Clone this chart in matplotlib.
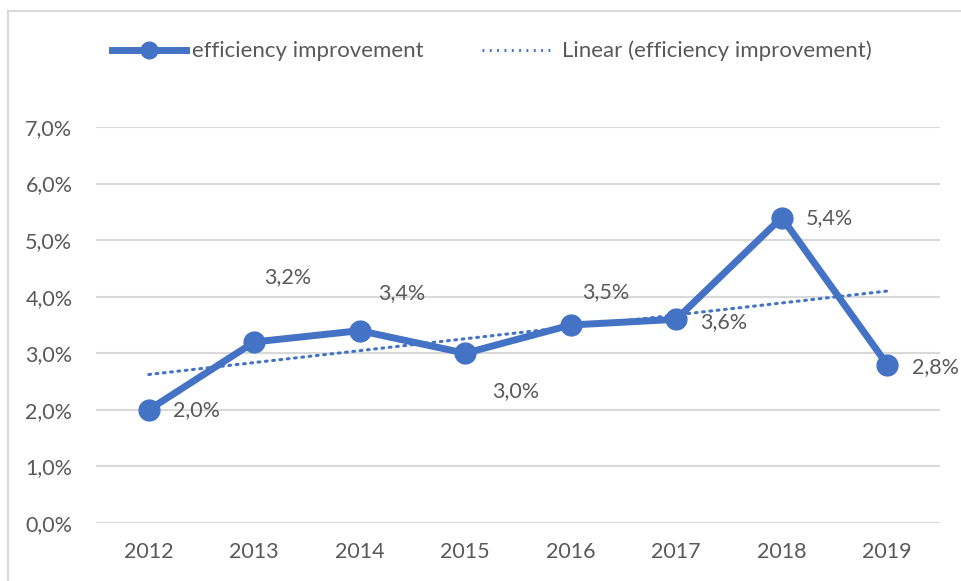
import matplotlib
matplotlib.use("Agg")
import matplotlib.pyplot as plt
from matplotlib.lines import Line2D
import numpy as np

years = ["2012", "2013", "2014", "2015", "2016", "2017", "2018", "2019"]
efficiency = [2.0, 3.2, 3.4, 3.0, 3.5, 3.6, 5.4, 2.8]
y_ticks = [0, 1, 2, 3, 4, 5, 6, 7]
series_name = "efficiency improvement"
trend_name = "Linear (efficiency improvement)"

BLUE = "#4472C4"
TEXT = "#595959"
GRID = "#D9D9D9"
plt.rcParams['font.family'] = ['Lato', 'DejaVu Sans']
FS = 15.5

fig = plt.figure(figsize=(9.62, 5.81), dpi=100)
ax = fig.add_axes([96/962, 1-523/581, (940-96)/962, (523-127)/581])

x = np.arange(len(years)) + 0.5
ax.plot(x, efficiency, color=BLUE, lw=5, marker='o', markersize=15,
        solid_joinstyle='round', zorder=3, clip_on=False)

coef = np.polyfit(np.arange(len(years)), efficiency, 1)
trend = np.polyval(coef, np.arange(len(years)))
ax.plot(x, trend, color=BLUE, lw=2.2, linestyle=(0, (0.6, 1.8)), zorder=2,
        dash_capstyle='round')

# label placement in pixels: (dx, dy, horizontal alignment)
placements = [(24, 0, 'left'), (33, 65, 'center'), (42, 38, 'center'),
              (50, -38, 'center'), (35, 33, 'center'), (24, -3, 'left'),
              (24, -1, 'left'), (25, -2, 'left')]
for xi, v, (dx, dy, ha) in zip(x, efficiency, placements):
    ax.annotate(f"{v:.1f}%".replace('.', ','), (xi, v), xytext=(dx, dy),
                textcoords='offset pixels', ha=ha, va='center',
                fontsize=FS, color=TEXT, zorder=4)

ax.set_xlim(0, len(years))
ax.set_ylim(0, 7)
ax.set_yticks(y_ticks)
ax.set_yticklabels([f"{t:.1f}%".replace('.', ',') for t in y_ticks])
ax.set_xticks(x)
ax.set_xticklabels(years)
ax.tick_params(axis='both', length=0, labelsize=FS, colors=TEXT)
ax.tick_params(axis='y', pad=17)
ax.tick_params(axis='x', pad=14)
ax.grid(axis='y', color=GRID, lw=1.5, zorder=0)
ax.set_axisbelow(True)
for s in ax.spines.values():
    s.set_visible(False)

handles = [
    Line2D([], [], color=BLUE, lw=5, marker='o', markersize=12),
    Line2D([], [], color=BLUE, lw=2.2, linestyle=(0, (0.6, 1.8))),
]
fig.legend(handles, [series_name, trend_name], loc='center',
           bbox_to_anchor=(0.5 + 11/962, 1-51/581), ncol=2, frameon=False,
           fontsize=16, labelcolor=TEXT, handlelength=3.3, columnspacing=2.6,
           handletextpad=0.3)

# chart border (left and top visible)
fig.add_artist(Line2D([8/962, 8/962], [0, 1-11/581], color=GRID, lw=1.5,
                      transform=fig.transFigure))
fig.add_artist(Line2D([8/962, 1], [1-11/581, 1-11/581], color=GRID, lw=1.5,
                      transform=fig.transFigure))

fig.savefig("out.png", dpi=100)
